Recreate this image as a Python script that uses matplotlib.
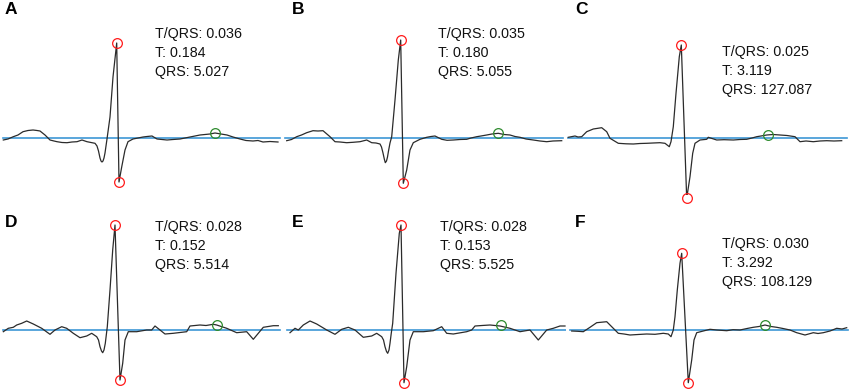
# =========================================================
#   ECG beats: QRS peak / trough and T wave markers
# =========================================================

import numpy as np
import matplotlib.pyplot as plt

plt.rcParams['font.family'] = ['Liberation Sans', 'DejaVu Sans']

# =========================================================
# DATA (x: samples from panel start, y: amplitude above baseline)
# =========================================================

labels = ["A", "B", "C", "D", "E", "F"]

t_qrs = ["0.036", "0.035", "0.025", "0.028", "0.028", "0.030"]
t_amp = ["0.184", "0.180", "3.119", "0.152", "0.153", "3.292"]
qrs_amp = ["5.027", "5.055", "127.087", "5.514", "5.525", "108.129"]

a_x = [3.3, 8, 13.3, 18, 23, 28, 33, 37, 40, 45, 50, 54, 57, 62, 67, 72, 77, 82,
       87, 91, 95, 97, 98.5, 100, 101, 102, 103, 104, 105, 106, 107, 110, 113,
       116.7, 119, 121.7, 125, 128, 133, 138, 143, 147, 152, 157, 162, 167,
       173, 180, 185, 190, 195, 200, 205, 210, 215, 221, 227, 233, 240, 246,
       253, 258, 263, 270, 278]
a_y = [-2, -1, 1.3, 3, 6.3, 7.5, 8, 7.5, 7, 3, -2, -3, -3.7, -4.5, -4.7, -4,
       -3.7, -2, -3.7, -4.5, -5.3, -8, -13, -20, -23, -24, -23, -20, -15, -8,
       -1, 21, 61, 95, -44, -29, -12, -3.7, -1, 0, 1, 1.5, 2, -1, -1.5, -2,
       -1.5, -1, 0, 1, 2, 3, 3.5, 4, 5, 4, 3, 1, -1, -2.5, -3, -2.5, -4,
       -3.5, -4]

b_x = [3.7, 8.5, 13.7, 18.5, 23.7, 30, 35, 40, 47, 52, 57, 63.7, 70, 77, 83.7,
       88.7, 93, 97, 98.5, 100, 101.3, 102.3, 103.5, 104.5, 105.5, 107, 108.7,
       112, 115.3, 117.7, 120.3, 123.7, 127, 130.3, 137, 143.7, 148, 152,
       158.7, 164, 170.3, 177, 183.7, 188, 193.7, 198, 203.7, 209, 215.3, 221,
       227, 232, 237, 243, 250.3, 257, 263.7, 270, 278.7]
b_y = [-2.7, -1.5, 1.3, 3, 5.3, 7.3, 7, 7.3, 1.3, -3.7, -4, -4.7, -4.3, -3.7,
       -2, -4.7, -5, -6, -9, -15, -21, -24.7, -23, -19, -13, -5, 1.3, 38, 78,
       98, -45.3, -32, -12, -4.7, -1.3, 0.7, 1.5, 2, -1.3, -2.3, -2, -1.5,
       -1.3, 0, 1.3, 2, 3, 4, 4.7, 3.5, 3, 1.5, 0.7, -1, -2, -3, -3.7, -3,
       -2.7]

c_x = [2.3, 9, 12, 15.7, 20.7, 27.3, 35.7, 40.7, 44, 52.3, 60, 67.3, 74, 80.7,
       87, 94, 99, 103.3, 105, 107.3, 110, 113.3, 115.3, 120.7, 124, 126.7,
       129, 134, 140.7, 142.3, 150.7, 158, 167.3, 174, 180.7, 186, 190.7,
       195, 200.7, 207, 214, 221, 229, 234, 240, 247.3, 254, 260.7, 268, 275.7]
c_y = [0.7, 2, 1, 1.3, 6.3, 9, 10.3, 6.3, -0.3, -5.3, -5.8, -6, -5.5, -5.3,
       -5, -4.7, -5.3, -8.7, -3.7, 11.3, 44.7, 81.3, 93, -60.3, -38.7, -15.3,
       -5.3, -2, -1.3, 0.7, -2, -1.7, -2, -1.5, -1.3, 0, 1.3, 2, 3, 3.5, 3,
       2.5, 1.3, -3.7, -3, -3.7, -3, -2.7, -3, -2.7]

d_x = [3.3, 8.3, 13.3, 16.7, 21.7, 26.7, 33.3, 41.7, 50, 55, 61.7, 66.7, 73.3,
       80, 86.7, 91.7, 96.7, 98.5, 100, 101.5, 102.7, 104, 105.3, 106.3, 107.3,
       110, 112.7, 115, 120, 122.7, 125, 128.3, 136.7, 146.7, 151.7, 155, 160,
       165, 173.3, 186.7, 190, 195, 200, 206, 213.3, 216.7, 226.7, 236.7,
       246.7, 253.3, 263.3, 273.3, 278.3]
d_y = [-1.7, 1.7, 2.7, 5, 6.7, 9, 6, 1.7, -4.3, 0, 3.3, 1.7, -3.3, -7.7, -6,
       -3.3, -6.7, -10, -16.7, -21, -22.7, -20, -13.3, -5, 3.3, 40, 80, 105,
       -50, -33.3, -10, -1.7, -1.7, 0, 0, 4, 0, -4, -3.3, -1.7, 4, 4.5, 5,
       4.5, 5.7, 5, 1.7, -2.7, -1.7, -9.3, 2.7, 4.3, 4.3]

e_x = [7, 12, 15.3, 20.3, 27, 33.7, 43.7, 52, 58.7, 65.3, 72, 80.3, 88.7, 93.7,
       98.7, 100.5, 102, 103.5, 104.7, 106, 107, 108.3, 109.7, 113, 116.3,
       118, 121, 123.7, 127, 130.3, 140.3, 150.3, 158.7, 163.7, 170.3, 183.7,
       188.7, 192, 199, 207, 212, 217, 227, 237, 247, 255.3, 263.7, 270.3,
       277, 282]
e_y = [-2.7, 1.7, 0, 5, 9, 6, 0, -4.3, 0.7, 2.7, 0, -7.3, -6, -3.3, -6.7, -10,
       -16.7, -21.5, -23.3, -20, -13.3, -3, 6.7, 56.7, 96.7, 105, -52.7,
       -36.7, -10, -1.7, -1.7, -0.7, 3.3, -3.3, -4, -1.7, 0, 4, 4.5, 5, 4.5,
       4, 1.7, -1.7, 0, -10, 0, 1.7, 4, 4]

f_x = [5.7, 12, 17.3, 24, 30.7, 40.7, 45.7, 52.3, 58, 64, 72, 80.7, 89, 97.3,
       102.3, 105, 107.3, 109, 111.3, 114, 115.7, 122.3, 125.7, 128, 130.7,
       137.3, 144, 150.7, 160.7, 167, 174, 181, 187.3, 193, 199, 205, 210.7,
       217, 224, 230.7, 239, 247.3, 252, 257.3, 264, 270.7, 276, 280.7]
f_y = [-1, -1.3, -1.7, 2.7, 7.3, 8.3, 3.3, -3.3, -4, -5, -4.5, -4, -4.3, -3.3,
       -4, -6.7, 0, 13.3, 40, 66.7, 76.7, -52.7, -30, -10, -2.7, -1, 0.7, 0,
       -0.7, 0.3, 0, 1.5, 2.7, 3.5, 5, 3.5, 2.7, 1.5, 0, -2.7, -5, -2.7, -3.5,
       -2.7, -1, 1.7, 1, 2.3]

waves_x = [a_x, b_x, c_x, d_x, e_x, f_x]
waves_y = [a_y, b_y, c_y, d_y, e_y, f_y]

# T wave marker position per beat
t_x = [215, 215, 201.7, 217, 217.7, 199]
t_y = [5, 5, 3.3, 5, 5, 5]

# baseline (start, end) per beat
base_start = [3, 2, 2, 3, 4, 4]
base_end = [280, 280, 281, 280, 284, 282]

# =========================================================
# FIGURE
# =========================================================

W, H = 850, 391

fig = plt.figure(figsize=(8.5, 3.91), dpi=100)

col_left = [0, 283, 566]
col_width = [283, 283, 284]

text_y = [111, 111, 93, 110, 110, 93]
text_x = [155, 155, 156, 155, 157, 156]
label_x = [5, 9, 9, 5, 9, 9]

for i in range(6):

    row = i // 3
    col = i % 3

    if row == 0:
        ax = fig.add_axes([col_left[col] / W, 196 / H, col_width[col] / W, 195 / H])
        ax.set_ylim(-57, 138)
        label_y = 136
    else:
        ax = fig.add_axes([col_left[col] / W, 0, col_width[col] / W, 196 / H])
        ax.set_ylim(-61, 135)
        label_y = 115

    ax.set_xlim(0, col_width[col])
    ax.axis("off")

    x = np.array(waves_x[i])
    y = np.array(waves_y[i])

    # baseline
    ax.plot([base_start[i], base_end[i]], [0, 0],
            color="#3d97d6", linewidth=1.2, zorder=1)

    # signal
    ax.plot(x, y, color="#2b2b2b", linewidth=0.9, zorder=2)

    # R peak and S trough
    i_max = np.argmax(y)
    i_min = np.argmin(y)

    ax.plot([x[i_max], x[i_min]], [y[i_max], y[i_min]],
            linestyle="none", marker="o", markersize=7,
            markerfacecolor="none", markeredgecolor="#ff1a1a",
            markeredgewidth=0.9, zorder=3, clip_on=False)

    # T wave
    ax.plot(t_x[i], t_y[i], linestyle="none", marker="o", markersize=7,
            markerfacecolor="none", markeredgecolor="#2e8b2e",
            markeredgewidth=0.9, zorder=3, clip_on=False)

    # text
    lines = [f"T/QRS: {t_qrs[i]}", f"T: {t_amp[i]}", f"QRS: {qrs_amp[i]}"]

    for k, s in enumerate(lines):
        ax.text(text_x[i], text_y[i] - 19 * k, s, fontsize=10.3,
                va="top", ha="left", color="#111111")

    ax.text(label_x[i], label_y, labels[i], fontsize=12.5,
            fontweight="bold", va="top", ha="left")

fig.savefig("out.png", dpi=100)
